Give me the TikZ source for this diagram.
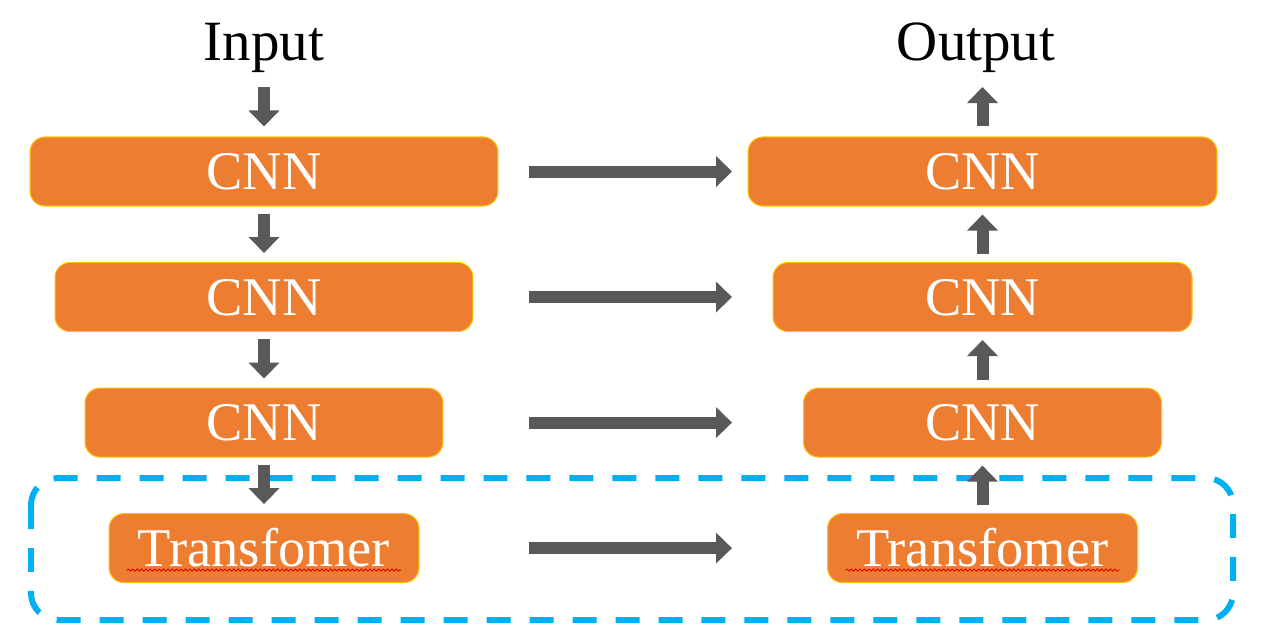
\documentclass[tikz,border=0pt]{standalone}
\usepackage{fontspec}
\setmainfont{Liberation Serif}
\usetikzlibrary{positioning, arrows.meta, decorations.pathmorphing}

\definecolor{boxorange}{HTML}{ED7D31}
\definecolor{boxedge}{HTML}{FFC000}
\definecolor{arrowgray}{HTML}{595959}
\definecolor{dashblue}{HTML}{00B0F0}

\tikzset{
    block/.style={rectangle, rounded corners=0.3cm, fill=boxorange, draw=boxedge, line width=0.6pt,
        text=white, font=\fontsize{31pt}{31pt}\selectfont, minimum height=1.38cm,
        text height=20.5pt, text depth=0pt, inner sep=0pt},
    iolabel/.style={font=\fontsize{32.4pt}{32.4pt}\selectfont, inner sep=0pt},
    flow/.style={draw=arrowgray, line width=0.24cm, -{Triangle[width=0.6cm, length=0.32cm]}},
    squiggle/.style={draw=red!85!black, line width=0.5pt, decorate,
        decoration={snake, amplitude=0.6pt, segment length=2.5pt}},
}

\begin{document}
\begin{tikzpicture}[x=0.02cm, y=-0.02cm, node distance=1.11cm]

    \useasboundingbox (0,0) rectangle (1277,630); % page size of the reference

    % dashed frame round the transformer row
    \draw[dashblue, line width=0.12cm, dash pattern=on 0.48cm off 0.38cm, rounded corners=0.54cm] (31,478) rectangle (1233,620);

    \node[iolabel, anchor=base] (inp) at (264,60) {Input}; % top left text
    \node[iolabel, anchor=base] (outp) at (976,60) {Output}; % top right text

    \node[block, minimum width=9.36cm] (cnnL1) at (264,171.5) {CNN}; % encoder side
    \node[block, minimum width=8.36cm, below=of cnnL1] (cnnL2) {CNN};
    \node[block, minimum width=7.16cm, below=of cnnL2] (cnnL3) {CNN};
    \node[block, minimum width=6.2cm, below=of cnnL3] (transL) {Transfomer};

    \node[block, minimum width=9.38cm] (cnnR1) at (982.5,171.5) {CNN}; % decoder side
    \node[block, minimum width=8.38cm, below=of cnnR1] (cnnR2) {CNN};
    \node[block, minimum width=7.16cm, below=of cnnR2] (cnnR3) {CNN};
    \node[block, minimum width=6.2cm, below=of cnnR3] (transR) {Transfomer};

    % spell check marks under the word
    \draw[squiggle] ([shift={(-2.74cm,-0.44cm)}]transL.center) -- ([shift={(2.74cm,-0.44cm)}]transL.center);
    \draw[squiggle] ([shift={(-2.74cm,-0.44cm)}]transR.center) -- ([shift={(2.74cm,-0.44cm)}]transR.center);

    % down the left column
    \draw[flow, shorten >=0.2cm] ([yshift=-0.54cm]inp.base) -- (cnnL1);
    \draw[flow, shorten <=0.14cm, shorten >=0.18cm] (cnnL1) -- (cnnL2);
    \draw[flow, shorten <=0.14cm, shorten >=0.18cm] (cnnL2) -- (cnnL3);
    \draw[flow, shorten <=0.14cm, shorten >=0.18cm] (cnnL3) -- (transL);

    % up the right column
    \draw[flow, shorten <=0.16cm, shorten >=0.16cm] (transR) -- (cnnR3);
    \draw[flow, shorten <=0.16cm, shorten >=0.16cm] (cnnR3) -- (cnnR2);
    \draw[flow, shorten <=0.16cm, shorten >=0.16cm] (cnnR2) -- (cnnR1);
    \draw[flow, shorten <=0.2cm] (cnnR1) -- ([yshift=-0.54cm]outp.base -| cnnR1);

    % skip links across
    \coordinate (hs) at (529,0);
    \coordinate (he) at (732,0);
    \foreach \a/\b in {cnnL1/cnnR1, cnnL2/cnnR2, cnnL3/cnnR3, transL/transR}
        \draw[flow] (\a -| hs) -- (\b -| he);

\end{tikzpicture}
\end{document}
